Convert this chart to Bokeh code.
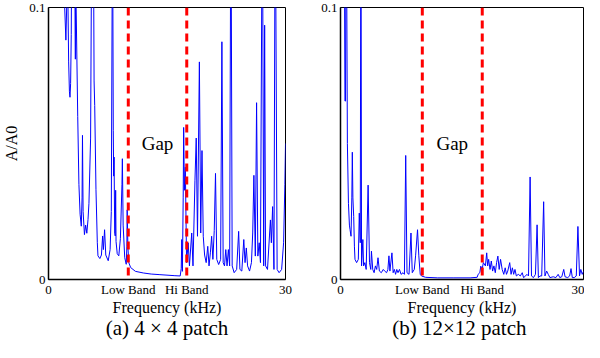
from bokeh.plotting import figure
from bokeh.layouts import row
from bokeh.models import Range1d, FixedTicker, LinearAxis
from bokeh.core.properties import value
from bokeh.embed import file_html
from bokeh.resources import INLINE

# ---------------- data ----------------
low_band = 10.1
high_band = 17.5
x_ticks = [0, 10.1, 17.5, 30]
x_tick_labels = ["0", "Low Band", "Hi Band", "30"]
y_ticks = [0, 0.1]
y_tick_labels = ["0", "0.1"]

# (a) 4x4 patch
left_freq = [1.95, 2.05, 2.2, 2.3, 2.4, 2.47, 2.55, 2.65, 2.72, 2.8, 2.88, 2.95, 3.2,
             3.36, 3.4, 3.44, 3.5, 3.7, 3.85, 4.0, 4.15, 4.25, 4.3, 4.38, 4.55, 4.7,
             4.85, 5.0, 5.12, 5.33, 5.45, 5.6, 5.7, 5.77, 5.85, 6.01, 6.18, 6.26, 6.5,
             6.7, 6.85, 6.95, 7.1, 7.25, 7.56, 7.8, 7.95, 8.05, 8.1, 8.15, 8.2, 8.25,
             8.3, 8.38, 8.45, 8.5, 8.55, 8.7, 8.9, 9.1, 9.3, 9.35, 9.45, 9.65, 9.84,
             9.92, 9.96, 10.05, 10.16, 10.4, 11.0, 12.0, 13.0, 14.0, 15.0, 16.0, 16.67,
             16.8, 16.87, 16.95, 17.05, 17.11, 17.2, 17.32, 17.48, 17.68, 17.84, 18.13,
             18.29, 18.54, 18.7, 18.86, 19.1, 19.27, 19.43, 19.59, 19.76, 19.96, 20.16,
             20.32, 20.49, 20.65, 20.81, 20.98, 21.14, 21.3, 21.54, 21.79, 21.95, 22.11,
             22.28, 22.44, 22.6, 22.77, 22.93, 23.09, 23.25, 23.5, 23.82, 24.07, 24.23,
             24.47, 24.72, 24.88, 25.04, 25.2, 25.45, 25.69, 25.85, 26.0, 26.18, 26.34,
             26.5, 26.67, 26.83, 27.07, 27.24, 27.36, 27.48, 27.72, 27.97, 28.09, 28.21,
             28.37, 28.54, 28.7, 28.94, 29.19, 29.51, 29.76, 29.92, 30.0]
left_amp = [0.13, 0.1, 0.088, 0.1, 0.13, 0.1, 0.08, 0.069, 0.067, 0.072, 0.09, 0.13, 0.14,
            0.1, 0.081, 0.14, 0.1, 0.06, 0.035, 0.024, 0.0196, 0.03, 0.053, 0.025, 0.0165,
            0.02, 0.017, 0.022, 0.028, 0.052, 0.12, 0.2, 0.12, 0.073, 0.064, 0.033, 0.0135,
            0.0087, 0.0077, 0.009, 0.016, 0.011, 0.0183, 0.009, 0.0069, 0.011, 0.025, 0.1,
            0.2, 0.1, 0.0547, 0.038, 0.045, 0.017, 0.016, 0.0328, 0.014, 0.0095, 0.0087,
            0.015, 0.035, 0.0444, 0.02, 0.008, 0.0056, 0.012, 0.0256, 0.012, 0.0062,
            0.0044, 0.003, 0.0024, 0.002, 0.0018, 0.0016, 0.0014, 0.0013, 0.004, 0.0147,
            0.003, 0.03, 0.0559, 0.0328, 0.0413, 0.0062, 0.0135, 0.005, 0.0171, 0.005,
            0.0365, 0.052, 0.0159, 0.08, 0.0171, 0.0474, 0.0159, 0.009, 0.0062, 0.0122,
            0.005, 0.0098, 0.0159, 0.0074, 0.018, 0.039, 0.0074, 0.0055, 0.0074, 0.0874,
            0.0062, 0.005, 0.011, 0.005, 0.011, 0.005, 0.15, 0.005, 0.0025, 0.0037, 0.0177,
            0.0037, 0.0031, 0.0147, 0.0062, 0.0116, 0.005, 0.0031, 0.0062, 0.0171, 0.0383,
            0.0086, 0.065, 0.0086, 0.0135, 0.0062, 0.15, 0.005, 0.0935, 0.005, 0.0037,
            0.016, 0.0219, 0.0135, 0.0268, 0.0037, 0.15, 0.0037, 0.0025, 0.0037, 0.0135,
            0.035, 0.05]

# (b) 12x12 patch
right_freq = [0.45, 0.55, 0.62, 0.7, 0.78, 0.85, 0.98, 1.1, 1.18, 1.3, 1.4, 1.46, 1.53,
              1.63, 1.72, 1.79, 1.99, 2.2, 2.32, 2.44, 2.52, 2.6, 2.76, 2.85, 3.01, 3.17,
              3.41, 3.58, 3.74, 3.82, 3.98, 4.15, 4.31, 4.47, 4.63, 4.8, 5.04, 5.28, 5.45,
              5.69, 5.85, 5.98, 6.1, 6.35, 6.5, 6.65, 6.8, 6.95, 7.1, 7.28, 7.48, 7.72,
              7.89, 8.05, 8.21, 8.46, 8.7, 8.86, 9.11, 9.27, 9.51, 9.67, 9.84, 10.0, 10.5,
              12.0, 14.0, 16.0, 16.87, 16.99, 17.2, 17.32, 17.48, 17.64, 17.89, 18.05,
              18.17, 18.29, 18.46, 18.62, 18.78, 18.94, 19.11, 19.27, 19.43, 19.59, 19.76,
              19.96, 20.16, 20.33, 20.49, 20.65, 20.89, 21.06, 21.22, 21.38, 21.54, 21.71,
              21.95, 22.2, 22.44, 22.6, 22.85, 23.01, 23.21, 23.41, 23.58, 23.82, 24.07,
              24.27, 24.43, 24.63, 24.84, 25.08, 25.24, 25.45, 25.65, 25.85, 26.26, 26.59,
              26.87, 27.07, 27.32, 27.56, 27.72, 28.05, 28.29, 28.46, 28.62, 28.86, 29.11,
              29.31, 29.51, 29.67, 29.84, 30.0]
right_amp = [0.15, 0.0656, 0.0656, 0.15, 0.1, 0.05, 0.028, 0.02, 0.0183, 0.0159, 0.03,
             0.0468, 0.03, 0.0232, 0.012, 0.0074, 0.0062, 0.0074, 0.0244, 0.0135, 0.15,
             0.005, 0.0147, 0.005, 0.0062, 0.0037, 0.0347, 0.0062, 0.0037, 0.0104, 0.0037,
             0.0025, 0.005, 0.0037, 0.008, 0.0031, 0.0025, 0.0037, 0.0031, 0.0025, 0.0037,
             0.0087, 0.0031, 0.0098, 0.0025, 0.0037, 0.0019, 0.0037, 0.0025, 0.0037,
             0.0019, 0.0025, 0.0019, 0.0456, 0.0025, 0.0019, 0.0171, 0.0025, 0.0037,
             0.0087, 0.0183, 0.0087, 0.0019, 0.0013, 0.0008, 0.0006, 0.0006, 0.0006,
             0.0008, 0.0019, 0.0025, 0.0049, 0.0037, 0.0062, 0.005, 0.0098, 0.005, 0.0074,
             0.0037, 0.0068, 0.0031, 0.005, 0.0025, 0.0062, 0.0086, 0.0037, 0.0074, 0.0037,
             0.0019, 0.0043, 0.0019, 0.0031, 0.0062, 0.0019, 0.0043, 0.0019, 0.0037,
             0.0013, 0.0019, 0.0013, 0.0025, 0.0007, 0.0013, 0.0019, 0.0013, 0.0377,
             0.0013, 0.0007, 0.0019, 0.0201, 0.0007, 0.0013, 0.0013, 0.0286, 0.0013,
             0.0031, 0.0019, 0.0007, 0.001, 0.0007, 0.0019, 0.0007, 0.001, 0.0037, 0.001,
             0.0007, 0.0013, 0.004, 0.0007, 0.0007, 0.0013, 0.0195, 0.0013, 0.0037, 0.0019,
             0.003]

FONT = "'Liberation Serif', 'Times New Roman', serif"


def make_panel(freq, amp, caption, ylabel, width, left_border, right_border):
    p = figure(width=width, height=342, x_range=Range1d(0, 30), y_range=Range1d(0, 0.1),
               output_backend="svg", toolbar_location=None,
               min_border_top=7, min_border_bottom=60,
               min_border_left=left_border, min_border_right=right_border)
    p.outline_line_color = "black"
    p.outline_line_width = 1
    p.outline_line_alpha = 1
    p.xgrid.visible = False
    p.ygrid.visible = False
    p.background_fill_color = "white"
    p.border_fill_color = "white"

    for ax in (p.xaxis[0], p.yaxis[0]):
        ax.axis_line_color = "black"
        ax.axis_line_width = 1.5
        ax.major_tick_line_color = None
        ax.minor_tick_line_color = None
        ax.major_tick_out = 0
        ax.major_tick_in = 0
        ax.major_label_text_font = FONT
        ax.major_label_text_font_size = "13px"
        ax.major_label_text_color = "black"
        ax.axis_label_text_font = FONT
        ax.axis_label_text_font_style = "normal"
        ax.axis_label_text_color = "black"

    p.xaxis.ticker = FixedTicker(ticks=x_ticks)
    p.xaxis.major_label_overrides = {t: l for t, l in zip(x_ticks, x_tick_labels)}
    p.xaxis.major_label_standoff = 2
    p.xaxis.axis_label = "Frequency (kHz)"
    p.xaxis.axis_label_text_font_size = "16px"
    p.xaxis.axis_label_standoff = -1

    p.yaxis.ticker = FixedTicker(ticks=y_ticks)
    p.yaxis.major_label_overrides = {t: l for t, l in zip(y_ticks, y_tick_labels)}
    p.yaxis.major_label_standoff = 3
    p.yaxis.major_label_orientation = "horizontal"
    if ylabel:
        p.yaxis.axis_label = ylabel
        p.yaxis.axis_label_text_font_size = "16px"
        p.yaxis.axis_label_standoff = 6

    p.line(freq, amp, line_color="#0000ff", line_width=1)

    p.segment(x0=[low_band, high_band], y0=[0.1, 0.1], x1=[low_band, high_band], y1=[0, 0],
              line_color="#ff0000", line_width=3, line_dash="8 5")

    p.text(x=[13.8], y=[0.0500], text=["Gap"], text_font=value(FONT),
           text_font_size="19px", text_align="center", text_baseline="middle",
           text_color="black")

    # caption under the panel, drawn as a tick-less axis label
    cap_axis = LinearAxis(ticker=FixedTicker(ticks=[]), axis_label=caption,
                          axis_line_color=None, major_tick_line_color=None,
                          minor_tick_line_color=None, major_tick_out=0, major_tick_in=0,
                          major_label_standoff=0, major_label_text_font_size="0px",
                          axis_label_standoff=-3,
                          axis_label_text_font=FONT, axis_label_text_font_size="21px",
                          axis_label_text_font_style="normal",
                          axis_label_text_color="black")
    p.add_layout(cap_axis, "below")
    return p


p1 = make_panel(left_freq, left_amp, "(a) 4 \u00d7 4 patch", "A/A0", 293, 42, 8)
p2 = make_panel(right_freq, right_amp, "(b) 12\u00d712  patch", None, 291, 47, 1)

layout = row(p1, p2)
open("out.html", "w").write(file_html(layout, INLINE))
